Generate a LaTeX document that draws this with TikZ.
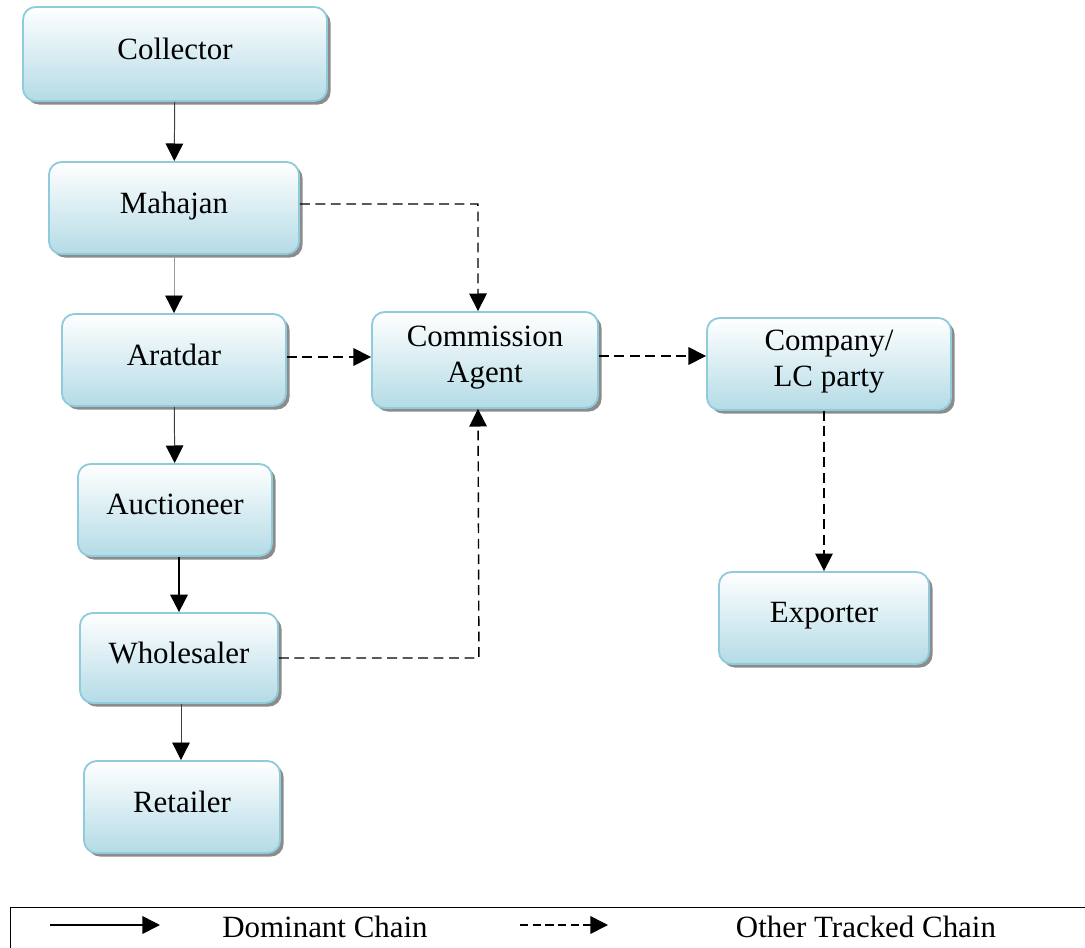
\documentclass[tikz,border=0pt]{standalone}
\usepackage{fontspec}
\setmainfont{Liberation Serif}
\usetikzlibrary{arrows.meta,shadows}
\definecolor{boxline}{HTML}{8FCBDB}
\definecolor{boxfill}{HTML}{B4DBE6}
\tikzset{
  chainbox/.style={draw=boxline,line width=1.3pt,rounded corners=9pt,
    top color=white,bottom color=boxfill,align=center,
    font=\fontsize{22}{26}\selectfont,text depth=8pt,
    general shadow={fill=black!45,shadow xshift=2.5pt,shadow yshift=-2.5pt}},
  dominant/.style={->,draw=black!75,line width=0.7pt},
  tracked/.style={->,dashed,dash pattern=on 7pt off 4pt,line width=1pt},
  legendtxt/.style={font=\fontsize{22}{26}\selectfont}
}

\begin{document}
\begin{tikzpicture}[x=0.025cm,y=-0.025cm,>={Triangle[length=12.5pt,width=12.5pt,color=black]}]
  \useasboundingbox (0,0) rectangle (1085,947);
  % main chain
  \node[chainbox,minimum width=7.6cm,minimum height=2.35cm] (col) at (175,54) {Collector};
  \node[chainbox,minimum width=6.25cm,minimum height=2.3cm] (mah) at (174,208) {Mahajan};
  \node[chainbox,minimum width=5.6cm,minimum height=2.3cm] (ara) at (174,360) {Aratdar};
  \node[chainbox,minimum width=4.85cm,minimum height=2.3cm] (auc) at (175,510) {Auctioneer};
  \node[chainbox,minimum width=4.95cm,minimum height=2.25cm] (who) at (179,658) {Wholesaler};
  \node[chainbox,minimum width=4.9cm,minimum height=2.3cm] (ret) at (182,807) {Retailer};
  % other chain
  \node[chainbox,minimum width=5.65cm,minimum height=2.4cm] (com) at (485,360) {Commission\\Agent};
  \node[chainbox,minimum width=6.1cm,minimum height=2.3cm] (cpy) at (829,364) {Company/\\LC party};
  \node[chainbox,minimum width=5.25cm,minimum height=2.3cm] (exp) at (824,618) {Exporter};

  \draw[dominant] (col) -- (mah);
  \draw[dominant,draw=black!40] (mah) -- (ara);
  \draw[dominant] (ara) -- (auc);
  \draw[->,line width=1.6pt] (auc.south -| who.north) -- (who.north);
  \draw[dominant] (who.south -| 181,0) -- (ret.north -| 181,0);

  \draw[tracked] (mah.east) ++(0,-4) -- ++(178,0) -- (com.north -| 478,0);
  \draw[tracked] (ara.east) ++(0,-3) -- (com.west |- 0,357);
  \draw[tracked] (who.east) -- ++(200,0) -- (com.south -| 478,0);
  \draw[tracked] (com.east) ++(0,-4) -- (cpy.west |- 0,356);
  \draw[tracked] (cpy.south -| exp.north) -- (exp.north);

  % legend
  \node[draw,line width=0.8pt,minimum width=27.2cm,minimum height=1.15cm,anchor=north west] (leg) at (10,907) {};
  \coordinate (s0) at (50,925);
  \coordinate (s1) at (160,925);
  \coordinate (d0) at (520,925);
  \coordinate (d1) at (608,925);
  \draw[->,line width=1.2pt] (s0) -- (s1);
  \draw[->,dashed,dash pattern=on 6pt off 3pt,line width=1.2pt] (d0) -- (d1);
  \node[legendtxt] (domtxt) at (325,927) {Dominant Chain};
  \node[legendtxt] (othtxt) at (866,927) {Other Tracked Chain};
\end{tikzpicture}
\end{document}
